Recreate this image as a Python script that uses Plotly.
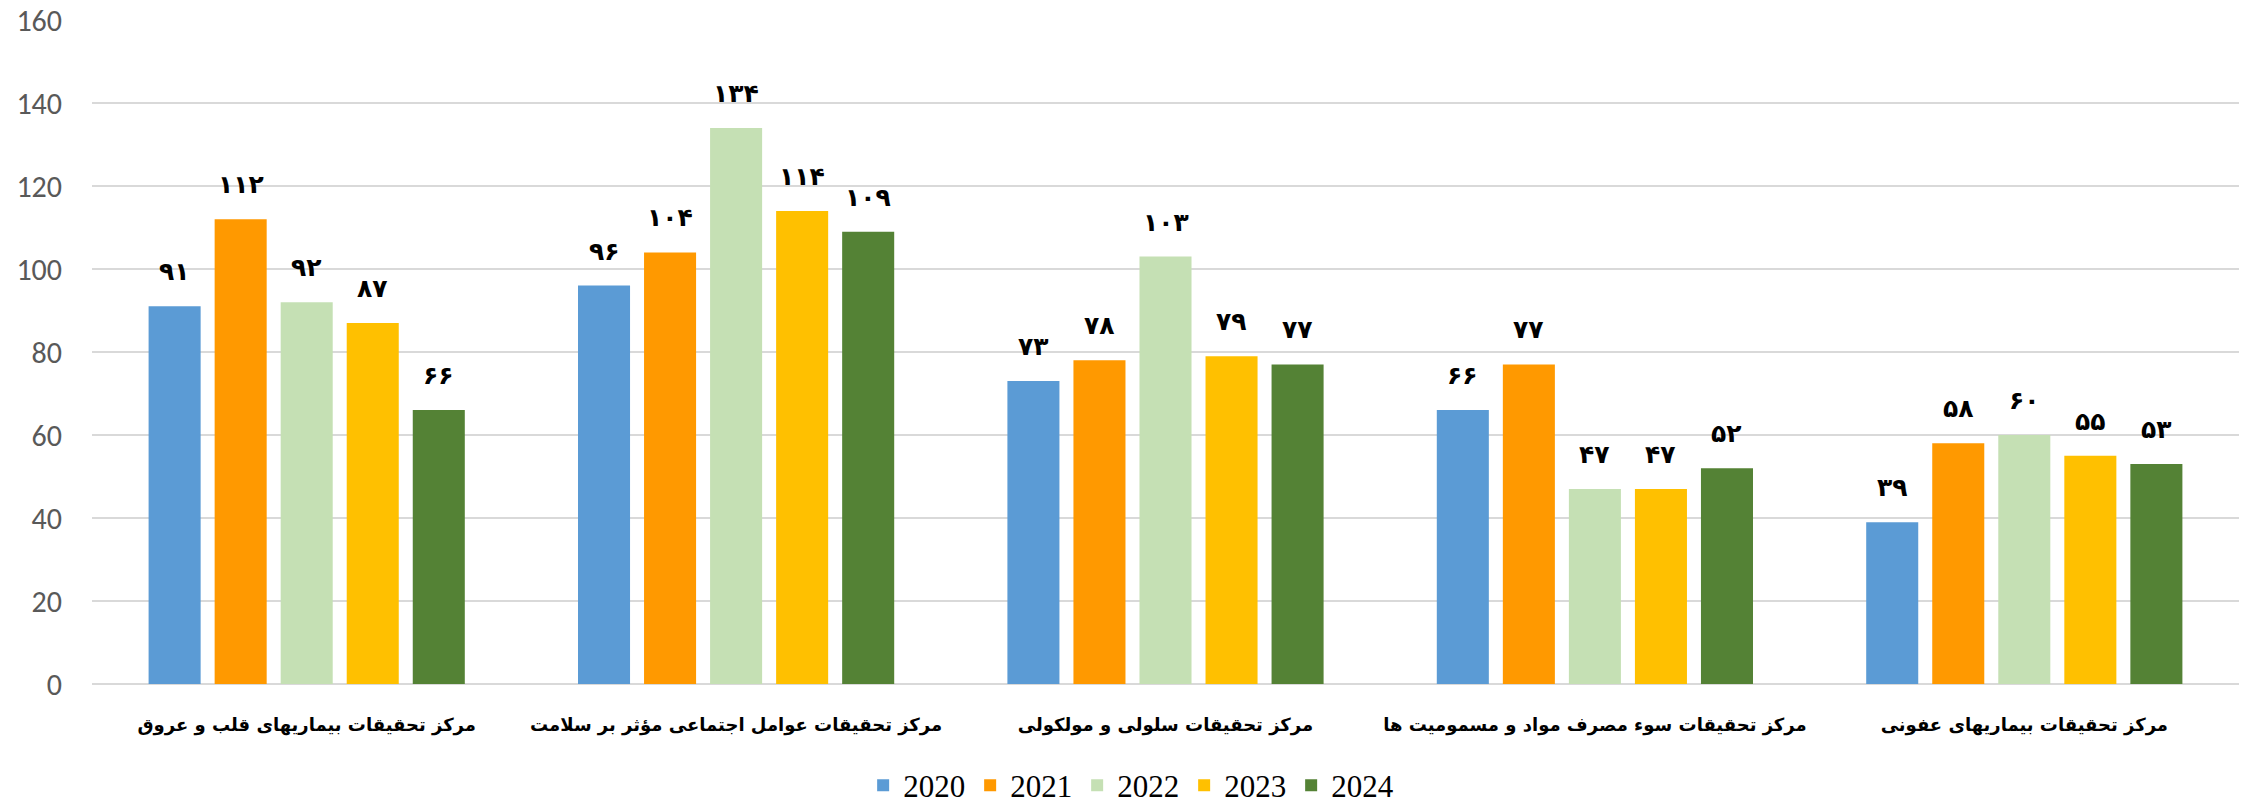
import plotly.graph_objects as go

categories = [
    "مرکز تحقیقات بیماریهای قلب و عروق",
    "مرکز تحقیقات عوامل اجتماعی مؤثر بر سلامت",
    "مرکز تحقیقات سلولی و مولکولی",
    "مرکز تحقیقات سوء مصرف مواد و مسمومیت ها",
    "مرکز تحقیقات بیماریهای عفونی",
]
years = ["2020", "2021", "2022", "2023", "2024"]
v2020 = [91, 96, 73, 66, 39]
v2021 = [112, 104, 78, 77, 58]
v2022 = [92, 134, 103, 47, 60]
v2023 = [87, 114, 79, 47, 55]
v2024 = [66, 109, 77, 52, 53]
series = [v2020, v2021, v2022, v2023, v2024]
colors = ["#5B9BD5", "#FF9900", "#C5E0B4", "#FFC000", "#548235"]

PERSIAN = str.maketrans("0123456789", "۰۱۲۳۴۵۶۷۸۹")

W, H = 2252, 807
ML, MR, MT, MB = 92, 13, 20, 123
plot_w = W - ML - MR
cat_w = plot_w / len(categories)
bargap = 0.231
pitch = (1 - bargap) * cat_w / len(years)

fig = go.Figure()
for name, vals, col in zip(years, series, colors):
    fig.add_trace(go.Bar(
        name=name, x=categories, y=vals,
        marker=dict(color=col, line=dict(width=0)),
    ))

annotations = []
for si, vals in enumerate(series):
    for ci, v in enumerate(vals):
        annotations.append(dict(
            x=categories[ci], y=v, xref="x", yref="y",
            text=str(v).translate(PERSIAN), showarrow=False,
            xshift=(si - 2) * pitch, yshift=18, yanchor="bottom",
            font=dict(family="DejaVu Sans", size=25, color="#000000", weight="bold"),
        ))

fig.update_layout(
    width=W, height=H,
    margin=dict(l=ML, r=MR, t=MT, b=MB, autoexpand=False),
    paper_bgcolor="white", plot_bgcolor="white",
    barmode="group", bargap=bargap, bargroupgap=0.212,
    annotations=annotations,
    legend=dict(
        orientation="h", x=0.484, xanchor="center", y=-0.153, yanchor="middle",
        font=dict(family="Liberation Serif, Times New Roman, serif", size=31, color="#000000"),
    ),
    xaxis=dict(
        type="category", showgrid=False, showline=False, zeroline=False,
        ticks="", ticklabelstandoff=28, tickangle=0, automargin=False,
        tickfont=dict(family="DejaVu Sans", size=18, color="#000000", weight="bold"),
    ),
    yaxis=dict(
        range=[0, 160], dtick=20, showgrid=True, gridcolor="#D9D9D9", gridwidth=2,
        zeroline=True, zerolinecolor="#D9D9D9", zerolinewidth=2,
        showline=False, ticks="", ticklabelstandoff=29, automargin=False,
        tickfont=dict(family="Carlito, Calibri, Open Sans, sans-serif", size=30, color="#595959"),
    ),
)

fig.write_html(
    "out.html",
    config={"displayModeBar": False},
    post_script="document.body.style.margin='0';document.body.style.overflow='hidden';",
)
